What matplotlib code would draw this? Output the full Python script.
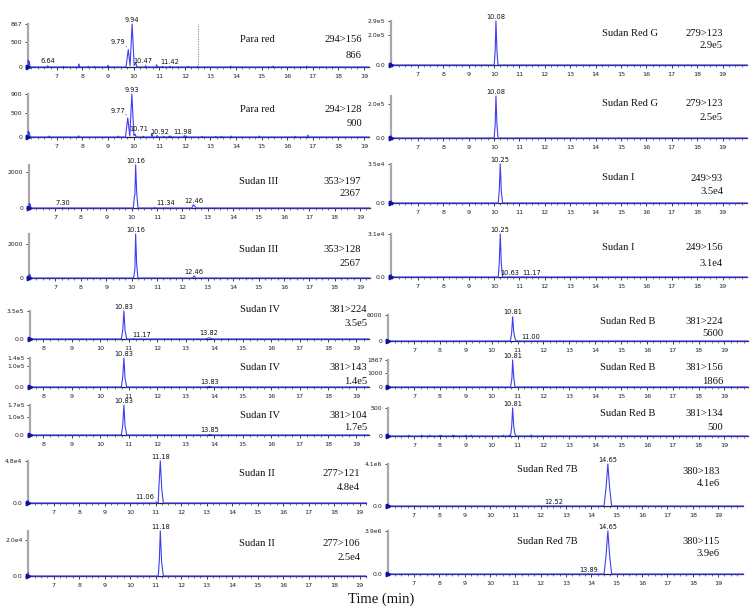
import matplotlib
matplotlib.use('Agg')
import matplotlib.pyplot as plt
import numpy as np

# ---------------- data ----------------
pr156 = [(5.87,0),(5.88,140),(5.90,30),(5.92,110),(5.95,0),
         (6.61,0),(6.64,25),(6.67,0),(7.22,0),(7.25,12),(7.28,0),
         (7.83,0),(7.86,60),(7.89,0),(8.20,0),(8.23,15),(8.26,0),
         (8.45,0),(8.48,12),(8.51,0),(8.97,0),(9.00,35),(9.03,0),
         (9.70,0),(9.79,350),(9.86,25),(9.94,867),(10.02,30),(10.08,85),(10.13,0),
         (10.44,0),(10.47,25),(10.50,0),(10.86,0),(10.90,45),(10.94,0),
         (11.10,0),(11.13,15),(11.16,0),(11.39,0),(11.42,15),(11.45,0),
         (12.10,0),(12.13,15),(12.16,0),(12.47,0),(12.50,15),(12.53,0),
         (13.77,0),(13.80,18),(13.83,0),(15.42,0),(15.45,18),(15.48,0),
         (16.74,0),(16.77,18),(16.80,0),(19.20,0)]
pr128 = [(5.87,0),(5.88,120),(5.90,40),(5.92,100),(5.95,0),
         (6.67,0),(6.70,20),(6.73,0),(7.82,0),(7.85,25),(7.88,0),
         (9.37,0),(9.40,20),(9.43,0),
         (9.68,0),(9.77,400),(9.85,20),(9.93,900),(10.01,30),(10.06,60),(10.10,0),
         (10.35,0),(10.38,15),(10.41,0),(10.68,0),(10.71,80),(10.75,0),
         (10.88,0),(10.92,30),(10.96,0),(11.15,0),(11.18,15),(11.21,0),
         (11.35,0),(11.38,20),(11.42,0),(11.45,20),(11.50,0),
         (11.95,0),(11.98,30),(12.02,0),(12.05,20),(12.10,0),
         (12.65,0),(12.68,15),(12.71,0),(13.18,0),(13.21,15),(13.24,0),
         (13.40,0),(13.43,15),(13.46,0),(13.78,0),(13.81,20),(13.84,0),
         (14.88,0),(14.91,20),(14.94,0),(16.28,0),(16.31,15),(16.34,0),
         (16.78,0),(16.81,40),(16.84,0),(19.20,0)]
s3_197 = [(5.96,0),(5.97,260),(5.99,80),(6.01,200),(6.04,0),
          (7.27,0),(7.30,15),(7.33,0),
          (10.07,0),(10.11,650),(10.13,700),(10.16,2367),(10.20,900),(10.25,0),
          (10.88,0),(10.91,30),(10.94,0),(11.31,0),(11.34,15),(11.37,0),
          (12.38,0),(12.43,180),(12.46,150),(12.50,60),(12.56,0),(19.39,0)]
s3_128 = [(5.96,0),(5.97,220),(5.99,80),(6.01,180),(6.04,0),
          (10.08,0),(10.13,500),(10.16,2567),(10.20,800),(10.25,0),
          (12.40,0),(12.46,120),(12.53,0),(19.39,0)]
s4_224 = [(7.53,0),(7.54,1.5e4),(7.57,0),
          (10.74,0),(10.79,1.2e5),(10.83,3.5e5),(10.87,1.0e5),(10.93,0),
          (11.14,0),(11.17,3e3),(11.20,0),
          (13.70,0),(13.76,8e3),(13.82,1.5e4),(13.88,8e3),(13.96,0),(19.44,0)]
s4_143 = [(7.53,0),(7.54,6e3),(7.57,0),
          (10.74,0),(10.79,5e4),(10.83,1.4e5),(10.87,4e4),(10.93,0),
          (13.72,0),(13.83,3e3),(13.94,0),(19.44,0)]
s4_104 = [(7.53,0),(7.54,7e3),(7.57,0),
          (10.74,0),(10.79,6e4),(10.83,1.7e5),(10.87,5e4),(10.93,0),
          (13.74,0),(13.85,3e3),(13.96,0),(19.44,0)]
s2_121 = [(5.99,0),(6.00,3e3),(6.03,0),(11.03,0),(11.06,500),(11.10,0),
          (11.12,1.5e4),(11.18,4.8e4),(11.24,1.5e4),(11.30,0),(19.25,0)]
s2_106 = [(5.99,0),(6.00,1.8e3),(6.03,0),
          (11.10,0),(11.14,8e3),(11.18,2.5e4),(11.23,8e3),(11.30,0),(19.25,0)]
srg_1 = [(5.95,0),(5.96,1.5e4),(5.99,0),
         (10.01,0),(10.05,9e4),(10.08,2.9e5),(10.12,9e4),(10.16,0),(19.96,0)]
srg_2 = [(5.95,0),(5.96,1.3e4),(5.99,0),
         (10.01,0),(10.05,8e4),(10.08,2.5e5),(10.12,8e4),(10.16,0),(19.96,0)]
s1_93 = [(5.95,0),(5.96,2e3),(5.99,0),
         (10.17,0),(10.21,1.1e4),(10.25,3.5e4),(10.29,1.1e4),(10.34,0),(19.96,0)]
s1_156 = [(5.95,0),(5.96,1.8e3),(5.99,0),
          (10.17,0),(10.21,1.0e4),(10.25,3.1e4),(10.29,1.0e4),(10.34,0),
          (10.60,0),(10.63,200),(10.66,0),(11.14,0),(11.17,150),(11.20,0),(19.96,0)]
srb_224 = [(5.99,0),(6.00,350),(6.03,0),
           (10.72,0),(10.77,1800),(10.81,5600),(10.85,2200),(10.90,600),(10.95,0),
           (10.98,0),(11.00,60),(11.03,0),(19.91,0)]
srb_156 = [(5.99,0),(6.00,120),(6.03,0),
           (10.73,0),(10.78,600),(10.81,1867),(10.85,700),(10.90,0),(19.91,0)]
srb_134 = [(5.99,0),(6.00,40),(6.03,0),
           (6.77,0),(6.80,15),(6.83,0),(7.27,0),(7.30,15),(7.33,0),
           (7.57,0),(7.60,15),(7.63,0),(7.97,0),(8.00,15),(8.03,0),(8.05,12),(8.08,0),
           (8.47,0),(8.50,15),(8.53,0),(8.55,12),(8.58,0),
           (8.97,0),(9.00,15),(9.03,0),(9.19,0),(9.22,15),(9.25,0),
           (10.42,0),(10.45,15),(10.48,0),(10.65,0),(10.68,15),
           (10.73,0),(10.77,150),(10.81,500),(10.85,180),(10.90,30),(10.95,0),
           (11.49,0),(11.52,20),(11.55,0),(19.91,0)]
s7b_183 = [(5.98,0),(5.99,2e5),(6.02,0),(12.49,0),(12.52,1e4),(12.55,0),
           (14.50,0),(14.58,1.8e6),(14.65,4.1e6),(14.72,1.8e6),(14.80,0),(19.98,0)]
s7b_115 = [(5.98,0),(5.99,1.9e5),(6.02,0),(13.86,0),(13.89,1e4),(13.92,0),
           (14.50,0),(14.58,1.7e6),(14.65,3.9e6),(14.72,1.7e6),(14.80,0),(19.98,0)]

compounds = ["Para red", "Para red", "Sudan III", "Sudan III", "Sudan IV", "Sudan IV",
             "Sudan IV", "Sudan II", "Sudan II",
             "Sudan Red G", "Sudan Red G", "Sudan I", "Sudan I", "Sudan Red B",
             "Sudan Red B", "Sudan Red B", "Sudan Red 7B", "Sudan Red 7B"]
transitions = ["294>156", "294>128", "353>197", "353>128", "381>224", "381>143",
               "381>104", "277>121", "277>106",
               "279>123", "279>123", "249>93", "249>156", "381>224", "381>156",
               "381>134", "380>183", "380>115"]
intensities = ["866", "900", "2367", "2567", "3.5e5", "1.4e5", "1.7e5", "4.8e4", "2.5e4",
               "2.9e5", "2.5e5", "3.5e4", "3.1e4", "5600", "1866", "500", "4.1e6", "3.9e6"]
traces = [pr156, pr128, s3_197, s3_128, s4_224, s4_143, s4_104, s2_121, s2_106,
          srg_1, srg_2, s1_93, s1_156, srb_224, srb_156, srb_134, s7b_183, s7b_115]
peak_labels = [["6.64", "9.79", "9.94", "10.47", "11.42"],
               ["9.77", "9.93", "10.71", "10.92", "11.98"],
               ["7.30", "10.16", "11.34", "12.46"],
               ["10.16", "12.46"],
               ["10.83", "11.17", "13.82"],
               ["10.83", "13.83"],
               ["10.83", "13.85"],
               ["11.06", "11.18"],
               ["11.18"],
               ["10.08"], ["10.08"], ["10.25"], ["10.25", "10.63", "11.17"],
               ["10.81", "11.00"], ["10.81"], ["10.81"],
               ["12.52", "14.65"], ["13.89", "14.65"]]
ytick_vals = [[0, 500, 867], [0, 500, 900], [0, 2000], [0, 2000],
              [0, 3.5e5], [0, 1.0e5, 1.4e5], [0, 1.0e5, 1.7e5], [0, 4.8e4], [0, 2.0e4],
              [0, 2.0e5, 2.9e5], [0, 2.0e5], [0, 3.5e4], [0, 3.1e4],
              [0, 6000], [0, 1000, 1867], [0, 500], [0, 4.1e6], [0, 3.9e6]]
ytick_text = [["0", "500", "867"], ["0", "500", "900"], ["0", "2000"], ["0", "2000"],
              ["0.0", "3.5e5"], ["0.0", "1.0e5", "1.4e5"], ["0.0", "1.0e5", "1.7e5"],
              ["0.0", "4.8e4"], ["0.0", "2.0e4"],
              ["0.0", "2.0e5", "2.9e5"], ["0.0", "2.0e5"], ["0.0", "3.5e4"], ["0.0", "3.1e4"],
              ["0", "6000"], ["0", "1000", "1867"], ["0", "500"], ["0.0", "4.1e6"], ["0.0", "3.9e6"]]
y_tops = [867, 900, 2367, 2567, 3.5e5, 1.4e5, 1.7e5, 4.8e4, 2.5e4,
          2.9e5, 2.5e5, 3.5e4, 3.1e4, 6000, 1867, 500, 4.1e6, 3.9e6]
x_ranges = [(5.87, 19.2), (5.87, 19.2), (5.96, 19.39), (5.96, 19.39),
            (7.53, 19.44), (7.53, 19.44), (7.53, 19.44), (5.99, 19.25), (5.99, 19.25),
            (5.95, 19.96), (5.95, 19.96), (5.95, 19.96), (5.95, 19.96),
            (5.99, 19.91), (5.99, 19.91), (5.99, 19.91), (5.98, 19.98), (5.98, 19.98)]
x_first_tick = [7, 7, 7, 7, 8, 8, 8, 7, 7, 7, 7, 7, 7, 7, 7, 7, 7, 7]
x_label_text = "Time (min)"

# ---------------- layout (pixels) ----------------
W, H = 756, 612
# (left, right, top, bottom) of each axes
boxes = [(28, 369, 24, 67), (28, 369, 94, 137), (29, 370, 165, 208), (29, 370, 234, 278),
         (30, 369, 311, 339), (30, 369, 358, 387), (30, 369, 405, 435),
         (28, 366, 461, 503), (28, 366, 531, 576),
         (391, 747, 21, 65), (391, 747, 96, 138), (391, 747, 164, 203), (391, 747, 234, 277),
         (388, 748, 315, 341), (388, 748, 360, 387), (388, 748, 408, 436),
         (388, 743, 464, 506), (388, 743, 531, 574)]
# (name center x, name y, transition right x, transition y, intensity y)
text_pos = [(257, 40, 362, 40, 55), (257, 110, 362, 110, 124),
            (259, 181, 361, 181, 194), (259, 250, 361, 250, 264),
            (260, 309, 367, 309, 323), (260, 368, 367, 368, 381), (260, 415, 367, 415, 428),
            (257, 473, 360, 473, 487), (257, 544, 360, 544, 557),
            (630, 33, 723, 33, 46), (630, 103, 723, 103, 117),
            (618, 177, 723, 178, 192), (618, 248, 723, 248, 263),
            (628, 321, 723, 322, 334), (628, 368, 723, 368, 381), (628, 414, 723, 414, 428),
            (547, 470, 720, 471, 484), (547, 541, 720, 541, 554)]
# special label placement: label -> (dx points, dy points, ha, leader)
special = {"9.79": (-2, 3, "right", True), "9.77": (-2, 3, "right", True),
           "11.06": (-2, 1.5, "right", True), "11.17": (6, 0.5, "center", False),
           "11.00": (3, 0.5, "left", False), "10.63": (0, 0.5, "center", False),
           "10.71": (-2.5, 0.5, "right", False), "10.92": (2.0, 0.5, "center", False),
           "11.98": (-1, 0.5, "center", False), "10.47": (-2, 1.0, "center", False)}

BLUE = "#3d3df5"
TICKFONT = ["Liberation Sans Narrow", "DejaVu Sans"]
SERIF = ["Liberation Serif", "DejaVu Serif"]

fig = plt.figure(figsize=(W / 100, H / 100), dpi=100)


def frac_box(l, r, t, b):
    return [l / W, 1 - b / H, (r - l) / W, (b - t) / H]


for i in range(len(traces)):
    l, r, t, b = boxes[i]
    ax = fig.add_axes(frac_box(l, r, t, b))
    tt, yy = zip(*traces[i])
    tt = np.array(tt)
    yy = np.array(yy)
    x0, x1 = x_ranges[i]
    ax.set_xticks(np.arange(x_first_tick[i], 20, 1))
    ax.set_xticks(np.arange(6, 20, 0.25), minor=True)
    ax.set_yticks(ytick_vals[i])
    ax.set_yticklabels(ytick_text[i])
    ax.set_xlim(x0, x1)
    ax.set_ylim(0, y_tops[i])
    ax.plot(tt, yy, color=BLUE, lw=0.8, clip_on=False, zorder=3)
    ax.plot([x0], [0], marker=">", color="#1010a0", ms=3.2, clip_on=False, zorder=4)
    for s in ["top", "right"]:
        ax.spines[s].set_visible(False)
    ax.spines["left"].set_color("#a8a8a8")
    ax.spines["left"].set_linewidth(1.6)
    ax.spines["bottom"].set_color("#202040")
    ax.spines["bottom"].set_linewidth(0.9)
    ax.tick_params(axis="x", which="major", length=2.2, width=0.6, pad=2.5,
                   labelsize=4.6, colors="#202020")
    ax.tick_params(axis="x", which="minor", length=1.2, width=0.5, colors="#404040")
    ax.tick_params(axis="y", length=2.5, width=0.6, pad=1.5, labelsize=4.4,
                   colors="#202020")
    for lab in ax.get_xticklabels() + ax.get_yticklabels():
        lab.set_family(TICKFONT)
    ax.patch.set_alpha(0)
    for lab in peak_labels[i]:
        tp = float(lab)
        hp = np.interp(tp, tt, yy)
        dx, dy, ha, leader = special.get(lab, (0, 1.0, "center", False))
        ax.annotate(lab, xy=(tp, hp), xytext=(dx, dy), textcoords="offset points",
                    ha=ha, va="bottom", fontsize=4.8, family=TICKFONT, color="#101010",
                    annotation_clip=False)
        if leader:
            ax.annotate("", xy=(tp - 0.02, hp), xytext=(dx + 0.3, dy + 1.5),
                        textcoords="offset points",
                        arrowprops=dict(arrowstyle="-", lw=0.4, color="#303030"),
                        annotation_clip=False)
    if i == 0:
        ax.plot([12.5, 12.5], [0, y_tops[i]], ls=(0, (1.5, 1.5)), lw=0.6, color="#777777")
    nx, ny, tx, ty, iy = text_pos[i]
    fig.text(nx / W, 1 - ny / H, compounds[i], ha="center", va="center",
             fontsize=7.6, family=SERIF, color="#111111")
    fig.text(tx / W, 1 - ty / H, transitions[i], ha="right", va="center",
             fontsize=7.6, family=SERIF, color="#111111")
    fig.text(tx / W, 1 - iy / H, intensities[i], ha="right", va="center",
             fontsize=7.6, family=SERIF, color="#111111")

fig.text(381 / W, 1 - 599 / H, x_label_text, ha="center", va="center",
         fontsize=10.5, family=SERIF, color="#111111")

fig.savefig("out.png", dpi=100)
